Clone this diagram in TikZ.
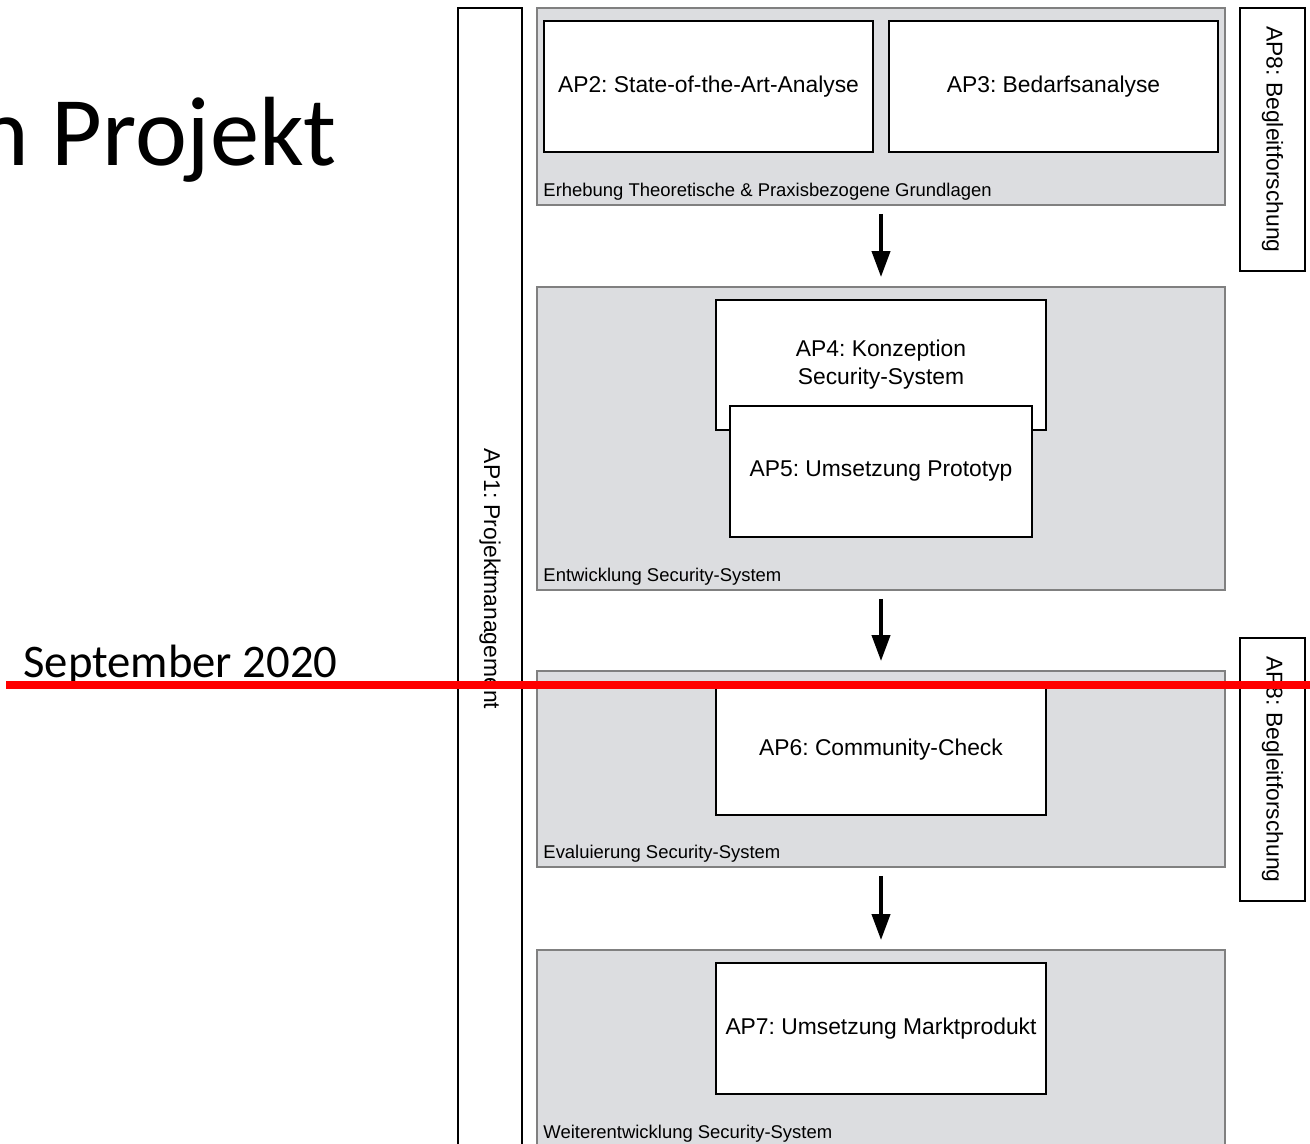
\documentclass[tikz,border=0pt]{standalone}
\usepackage{fontspec}
\setmainfont{Liberation Sans}
\newfontfamily\slidefont{Carlito}
\usetikzlibrary{arrows.meta,positioning}
\definecolor{phasegray}{RGB}{220,221,224}
\definecolor{phaseborder}{RGB}{128,128,128}
\frenchspacing

\begin{document}
\begin{tikzpicture}[
            x=0.02cm, y=-0.02cm,
            >={Triangle[length=0.52cm,width=0.36cm]},
            phase/.style={rectangle, draw=phaseborder, line width=1.1pt, fill=phasegray, minimum width=13.76cm, inner sep=0},
            ap/.style={rectangle, draw, line width=1.1pt, fill=white, minimum height=2.62cm, align=center, font=\fontsize{13}{16}\selectfont},
            side/.style={rectangle, draw, line width=1.1pt, fill=white, rotate=-90, font=\fontsize{13}{16}\selectfont},
            phaselabel/.style={inner sep=0, font=\fontsize{10.5}{12}\selectfont},
            every edge/.style={draw, ->, line width=2.3pt, shorten <=0.16cm, shorten >=0.18cm}
        ]

        \useasboundingbox (0,0) rectangle (1310,1143);

        % Nodes
        \node[side, minimum width=22.84cm, minimum height=1.28cm] (ap1) at (490,579) {AP1: Projektmanagement};

        \node[phase, minimum height=3.94cm] (grundlagen) at (881,106.5) {};
        \node[ap, minimum width=6.58cm] (ap2) at (708.5,86.5) {AP2: State-of-the-Art-Analyse};
        \node[ap, minimum width=6.58cm] (ap3) at (1053.5,86.5) {AP3: Bedarfsanalyse};
        \node[phaselabel, above right=0.1cm and 0.14cm of grundlagen.south west] (lgrundlagen) {Erhebung Theoretische \& Praxisbezogene Grundlagen};

        \node[phase, minimum height=6.06cm] (entwicklung) at (881,438.5) {};
        \node[ap, minimum width=6.6cm, minimum height=2.6cm] (ap4) at (881,365) {AP4: Konzeption\\Security-System};
        \node[ap, minimum width=6.04cm] (ap5) at (881,471.5) {AP5: Umsetzung Prototyp};
        \node[phaselabel, above right=0.1cm and 0.14cm of entwicklung.south west] (lentwicklung) {Entwicklung Security-System};

        \node[phase, minimum height=3.92cm] (evaluierung) at (881,769) {};
        \node[ap, minimum width=6.6cm, minimum height=2.6cm] (ap6) at (881,750) {AP6: Community-Check};
        \node[phaselabel, above right=0.1cm and 0.14cm of evaluierung.south west] (levaluierung) {Evaluierung Security-System};

        \node[phase, minimum height=3.94cm] (weiter) at (881,1048.5) {};
        \node[ap, minimum width=6.6cm] (ap7) at (881,1028.5) {AP7: Umsetzung Marktprodukt};
        \node[phaselabel, above right=0.1cm and 0.14cm of weiter.south west] (lweiter) {Weiterentwicklung Security-System};

        \node[side, minimum width=5.26cm, minimum height=1.3cm] (ap8a) at (1272.5,139.5) {AP8: Begleitforschung};
        \node[side, minimum width=5.26cm, minimum height=1.3cm] (ap8b) at (1272.5,769.5) {AP8: Begleitforschung};

        \node[anchor=base east, inner sep=0, font=\slidefont\fontsize{56}{60}\selectfont] (titel) at (337,165) {n Projekt};
        \node[anchor=base west, inner sep=0, font=\slidefont\fontsize{26.6}{30}\selectfont] (datum) at (23,677) {September 2020};

        % Edges
        \path
        (grundlagen) edge (entwicklung)
        (entwicklung) edge (evaluierung)
        (evaluierung) edge (weiter);

        % Stichtag
        \coordinate (stichL) at (6,685);
        \coordinate (stichR) at (1310,685);
        \draw[red, line width=4.5pt] (stichL) -- (stichR);

        \end{tikzpicture}
\end{document}
